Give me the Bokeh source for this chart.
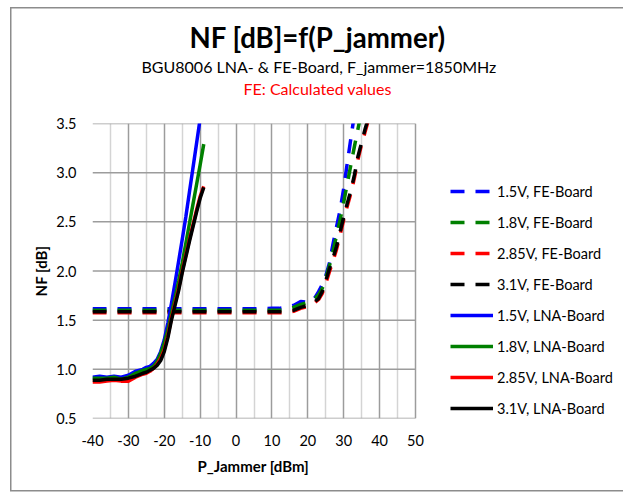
from bokeh.plotting import figure
from bokeh.models import (Range1d, FixedTicker, NumeralTickFormatter, Legend, LegendItem, Title)
from bokeh.embed import file_html
from bokeh.resources import INLINE

# ---- data ----
x_lna = [-40, -38, -36, -34, -32, -30, -28, -26, -25, -24, -23, -22, -21, -20, -19,
         -18, -17, -16, -15, -14, -13, -12, -11, -10, -9]
lna_15 = [0.92, 0.93, 0.92, 0.93, 0.92, 0.94, 0.98, 1.00, 1.02, 1.03, 1.06, 1.10, 1.18,
          1.30, 1.47, 1.67, 1.88, 2.10, 2.32, 2.55, 2.80, 3.05, 3.30, 3.55, 3.80]
lna_18 = [0.91, 0.91, 0.91, 0.92, 0.90, 0.92, 0.96, 0.99, 1.00, 1.01, 1.03, 1.08, 1.16,
          1.27, 1.40, 1.57, 1.73, 1.90, 2.08, 2.28, 2.48, 2.68, 2.88, 3.08, 3.29]
lna_285 = [0.87, 0.87, 0.88, 0.89, 0.88, 0.88, 0.92, 0.95, 0.96, 0.98, 1.01, 1.05, 1.11,
           1.20, 1.34, 1.52, 1.67, 1.82, 2.00, 2.16, 2.32, 2.47, 2.62, 2.76, 2.86]
lna_31 = [0.89, 0.89, 0.90, 0.90, 0.90, 0.91, 0.93, 0.96, 0.97, 0.99, 1.01, 1.04, 1.09,
          1.18, 1.32, 1.50, 1.65, 1.80, 1.98, 2.14, 2.30, 2.45, 2.60, 2.74, 2.85]

x_fe = [-40, -35, -30, -25, -20, -15, -10, -5, 0, 5, 10, 12, 14, 16, 18, 20, 21, 22, 23,
        24, 25, 26, 27, 28, 29, 30, 31, 32, 33, 34, 35, 36, 37, 38]
fe_15 = [1.615, 1.615, 1.615, 1.615, 1.615, 1.615, 1.615, 1.615, 1.615, 1.615, 1.62, 1.62,
         1.63, 1.65, 1.69, 1.68, 1.69, 1.73, 1.79, 1.86, 1.95, 2.08, 2.27, 2.45, 2.62, 2.84,
         3.10, 3.35, 3.60, 3.85, 4.10, 4.35, 4.60, 4.85]
fe_18 = [1.60, 1.60, 1.60, 1.60, 1.60, 1.60, 1.60, 1.60, 1.60, 1.60, 1.60, 1.60, 1.61,
         1.63, 1.66, 1.68, 1.69, 1.72, 1.76, 1.82, 1.93, 2.05, 2.20, 2.36, 2.52, 2.70, 2.89,
         3.08, 3.27, 3.45, 3.63, 3.80, 3.98, 4.15]
fe_285 = [1.575, 1.575, 1.575, 1.575, 1.575, 1.575, 1.575, 1.575, 1.575, 1.575, 1.575,
          1.575, 1.58, 1.59, 1.62, 1.64, 1.65, 1.68, 1.71, 1.77, 1.87, 1.99, 2.10, 2.22,
          2.37, 2.52, 2.66, 2.79, 2.95, 3.14, 3.29, 3.42, 3.55, 3.68]
fe_31 = [1.585, 1.585, 1.585, 1.585, 1.585, 1.585, 1.585, 1.585, 1.585, 1.585, 1.585,
         1.585, 1.59, 1.60, 1.63, 1.65, 1.66, 1.69, 1.72, 1.79, 1.90, 2.02, 2.13, 2.25,
         2.40, 2.55, 2.69, 2.82, 2.98, 3.17, 3.31, 3.45, 3.57, 3.70]

x_ticks = [-40, -30, -20, -10, 0, 10, 20, 30, 40, 50]
x_minor = [-35, -25, -15, -5, 5, 15, 25, 35, 45]
y_ticks = [0.5, 1.0, 1.5, 2.0, 2.5, 3.0, 3.5]

fe_labels = ["1.5V, FE-Board", "1.8V, FE-Board", "2.85V, FE-Board", "3.1V, FE-Board"]
lna_labels = ["1.5V, LNA-Board", "1.8V, LNA-Board", "2.85V, LNA-Board", "3.1V, LNA-Board"]
colors = ["#0000ff", "#008000", "#ff0000", "#000000"]

FONT = "Lato"
GRID = "#9c9c9c"

# layout (pixels)
W, H = 623, 493
LEFT, TOP = 92, 123
PLOT_W, PLOT_H = 323, 295
x0, x1 = x_ticks[0], x_ticks[-1]
frame_w = W - LEFT
x_end = x0 + (x1 - x0) * frame_w / PLOT_W   # frame widened to host the legend

p = figure(width=W, height=H, output_backend="svg", toolbar_location=None,
           x_range=Range1d(x0, x_end), y_range=Range1d(y_ticks[0], y_ticks[-1]),
           min_border_left=LEFT, min_border_right=0, min_border_top=TOP,
           min_border_bottom=H - TOP - PLOT_H)
p.border_fill_color = None
p.background_fill_color = "white"
p.outline_line_color = None
p.styles = {
    "background-color": "white",
    "background-image": ("linear-gradient(#8c8c8c,#8c8c8c), "
                         "linear-gradient(#8c8c8c,#8c8c8c), "
                         "linear-gradient(#8c8c8c,#8c8c8c)"),
    "background-position": "10px 7px, 10px 7px, 10px 490px",
    "background-size": "1.5px 484px, 613px 1.5px, 613px 1.5px",
    "background-repeat": "no-repeat",
}

p.xaxis.ticker = FixedTicker(ticks=x_ticks, minor_ticks=x_minor)
p.yaxis.ticker = FixedTicker(ticks=y_ticks)
p.yaxis.formatter = NumeralTickFormatter(format="0.0")
p.xaxis.major_label_overrides = {t: str(t) for t in x_ticks}
for ax in (p.xaxis[0], p.yaxis[0]):
    ax.axis_line_color = None
    ax.major_tick_line_color = None
    ax.minor_tick_line_color = None
    ax.major_tick_out = 0
    ax.major_tick_in = 0
    ax.minor_tick_out = 0
    ax.minor_tick_in = 0
    ax.major_label_text_font = FONT
    ax.major_label_text_font_size = "14.5px"
    ax.major_label_text_color = "#000000"
    ax.axis_label_text_font = FONT
    ax.axis_label_text_font_size = "15px"
    ax.axis_label_text_font_style = "bold"
    ax.axis_label_text_color = "#000000"
p.yaxis.axis_label = "NF [dB]"
p.xaxis.major_label_standoff = 16
p.yaxis.major_label_standoff = 16
p.yaxis.axis_label_standoff = 3

p.xgrid.grid_line_color = GRID
p.xgrid.grid_line_width = 1.5
p.xgrid.minor_grid_line_color = "#d4d4d4"
p.xgrid.minor_grid_line_width = 1.5
p.ygrid.grid_line_color = None
p.segment(x0=[x0] * len(y_ticks), x1=[x1] * len(y_ticks), y0=y_ticks, y1=y_ticks,
          line_color=GRID, line_width=1.5)

items = []
fe_series = [fe_15, fe_18, fe_285, fe_31]
lna_series = [lna_15, lna_18, lna_285, lna_31]
for ys, c, lab in zip(fe_series, colors, fe_labels):
    r = p.line(x_fe, ys, line_color=c, line_width=3.5, line_dash="14 11")
    items.append(LegendItem(label=lab, renderers=[r]))
for ys, c, lab in zip(lna_series, colors, lna_labels):
    r = p.line(x_lna, ys, line_color=c, line_width=3.5)
    items.append(LegendItem(label=lab, renderers=[r]))

legend = Legend(items=items, location=(450 - LEFT, 0), margin=0, padding=0,
                border_line_color=None, background_fill_alpha=0,
                spacing=11, label_height=20, glyph_height=20, glyph_width=43,
                label_standoff=4, label_text_font=FONT, label_text_font_size="14.5px",
                label_text_color="#000000")
p.add_layout(legend, "center")

# left-aligned titles, offsets = desired text start minus frame left
x_title = Title(text="P_Jammer [dBm]", text_color="#000000", text_font=FONT,
                text_font_size="15px", text_font_style="bold", align="left",
                offset=197 - LEFT, standoff=12)
p.add_layout(x_title, "below")

spacer = Title(text=" ", text_font_size="1px", standoff=21.8)
t_red = Title(text="FE: Calculated values", text_color="#ff0000", text_font=FONT,
              text_font_size="16px", text_font_style="normal", align="left",
              offset=243 - LEFT, standoff=0.6)
t_sub = Title(text="BGU8006 LNA- & FE-Board, F_jammer=1850MHz", text_color="#000000",
              text_font=FONT, text_font_size="16px", text_font_style="normal",
              align="left", offset=141 - LEFT, standoff=0.6)
t_main = Title(text="NF [dB]=f(P_jammer)", text_color="#000000", text_font=FONT,
               text_font_size="27.6px", text_font_style="bold", align="left",
               offset=189 - LEFT, standoff=1.6)
p.add_layout(spacer, "above")
p.add_layout(t_red, "above")
p.add_layout(t_sub, "above")
p.add_layout(t_main, "above")

open("out.html", "w").write(file_html(p, INLINE))
